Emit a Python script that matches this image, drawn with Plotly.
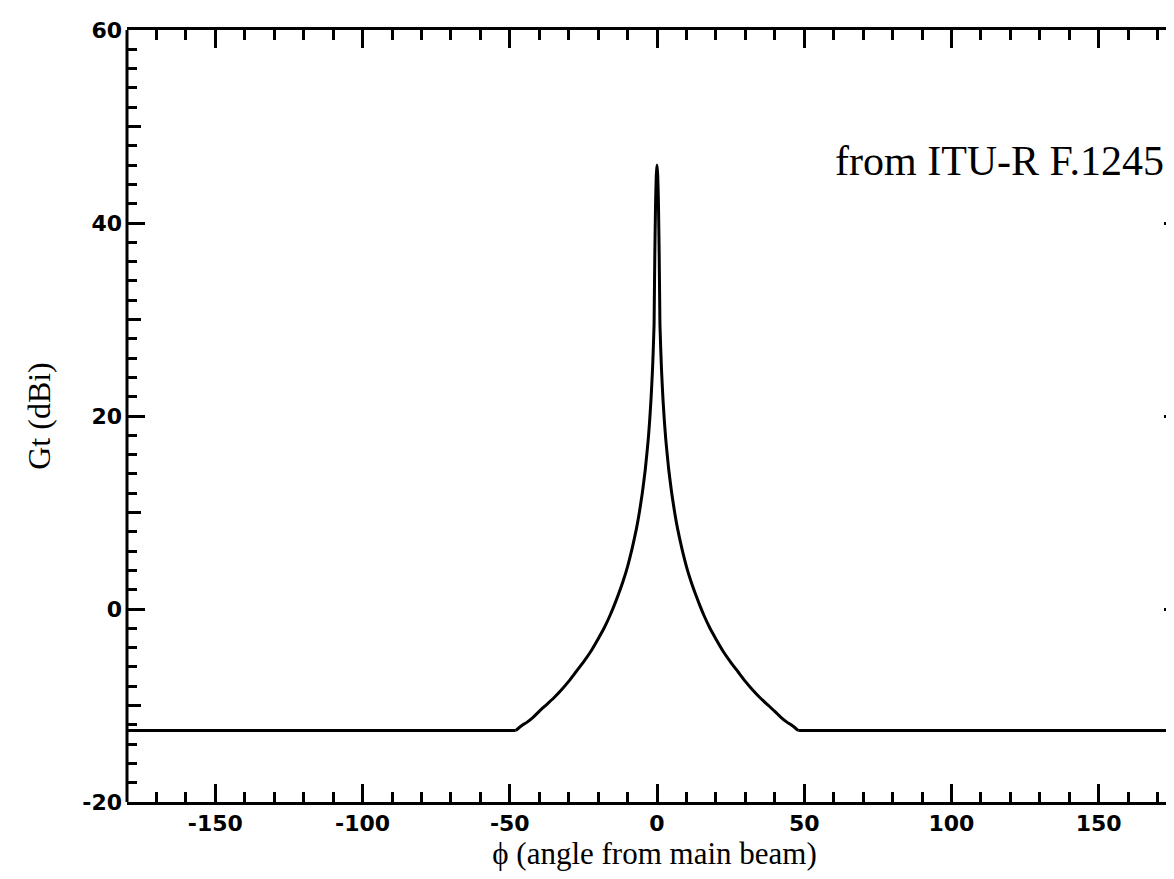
import plotly.graph_objects as go

# Antenna gain pattern (degrees, dBi)
# far sidelobe floor, left and right
floor_left_phi = [-180, -48]
floor_left_gain = [-12.6, -12.6]
floor_right_phi = [48, 180]
floor_right_gain = [-12.6, -12.6]
# main beam / near sidelobe envelope
phi = [-48, -46, -44, -42, -40, -37.5, -35, -32.5, -30, -27.5, -25, -22.5, -20, -18, -16,
       -14.5, -13, -11.5, -10, -8.5, -7, -6, -5, -4, -3, -2.5, -2, -1.5, -1, -0.95, -0.75, -0.5,
       -0.25, 0, 0.25, 0.5, 0.75, 0.95, 1, 1.5, 2, 2.5, 3, 4, 5, 6, 7, 8.5, 10, 11.5, 13, 14.5,
       16, 18, 20, 22.5, 25, 27.5, 30, 32.5, 35, 37.5, 40, 42, 44, 46, 48]
gain = [-12.6, -12.1, -11.7, -11.2, -10.6, -9.9, -9.2, -8.4, -7.5, -6.5, -5.5, -4.4, -3.1,
        -2.0, -0.7, 0.4, 1.6, 2.9, 4.4, 6.2, 8.3, 10.0, 12.0, 14.4, 17.5, 19.5, 21.9, 25.0, 29.4,
        30.8, 36.5, 41.8, 44.9, 46.0, 44.9, 41.8, 36.5, 30.8, 29.4, 25.0, 21.9, 19.5, 17.5, 14.4,
        12.0, 10.0, 8.3, 6.2, 4.4, 2.9, 1.6, 0.4, -0.7, -2.0, -3.1, -4.4, -5.5, -6.5, -7.5, -8.4,
        -9.2, -9.9, -10.6, -11.2, -11.7, -12.1, -12.6]

x_range = [-180, 178.3]
y_range = [-20, 60]
x_ticks = [-150, -100, -50, 0, 50, 100, 150]
x_tick_labels = ["-150", "-100", "-50", "0", "50", "100", "150"]
y_ticks = [-20, 0, 20, 40, 60]
y_tick_labels = ["-20", "0", "20", "40", "60"]
y_mid_ticks = [-10, 10, 30, 50]

tick_font = dict(family="DejaVu Sans", size=22, color="black", weight="bold")
serif = "Liberation Serif"
line_style = dict(color="black", width=3)

fig = go.Figure()
fig.add_trace(go.Scatter(x=floor_left_phi, y=floor_left_gain, mode="lines",
                         line=line_style, showlegend=False, hoverinfo="skip"))
fig.add_trace(go.Scatter(x=phi, y=gain, mode="lines",
                         line=dict(line_style, shape="spline", smoothing=0.5),
                         showlegend=False, hoverinfo="skip"))
fig.add_trace(go.Scatter(x=floor_right_phi, y=floor_right_gain, mode="lines",
                         line=line_style, showlegend=False, hoverinfo="skip"))
fig.add_trace(go.Scatter(x=[], y=[], yaxis="y2", showlegend=False))

fig.update_layout(
    width=1174, height=879,
    margin=dict(l=119, r=0, t=22, b=85),
    paper_bgcolor="white", plot_bgcolor="white",
    xaxis=dict(
        range=x_range, tickvals=x_ticks, ticktext=x_tick_labels, ticks="inside",
        ticklen=18, tickwidth=2.5, tickcolor="black", showline=True, linecolor="black",
        linewidth=3, mirror="ticks", showgrid=False, zeroline=False, tickfont=tick_font,
        minor=dict(dtick=10, tick0=0, ticks="inside", ticklen=10, tickwidth=2.5,
                   tickcolor="black", showgrid=False),
        title=dict(text="\u03d5 (angle from main beam)",
                   font=dict(family=serif, size=31, color="black"), standoff=2),
    ),
    yaxis=dict(
        range=y_range, tickvals=y_ticks, ticktext=y_tick_labels, ticks="inside",
        ticklen=18, tickwidth=2.5, tickcolor="black", showline=False, mirror="ticks",
        showgrid=False, zeroline=False, tickfont=tick_font, ticklabelstandoff=4,
        minor=dict(dtick=2, tick0=0, ticks="inside", ticklen=10, tickwidth=2.5,
                   tickcolor="black", showgrid=False),
        title=dict(text="Gt (dBi)", font=dict(family=serif, size=32, color="black"),
                   standoff=22),
    ),
    yaxis2=dict(
        range=y_range, overlaying="y", side="left", tickvals=y_mid_ticks, ticks="inside",
        ticklen=14, tickwidth=2.5, tickcolor="black", mirror="ticks", showline=False,
        showticklabels=False, showgrid=False, zeroline=False,
    ),
    shapes=[dict(type="line", xref="paper", yref="paper", x0=0, x1=0, y0=0, y1=1,
                 line=dict(color="black", width=3))],
    annotations=[dict(text="from ITU-R F.1245", xref="paper", yref="paper",
                      x=0.985, y=0.83, xanchor="right", yanchor="middle", showarrow=False,
                      font=dict(family=serif, size=42, color="black"))],
)

fig.write_html("out.html")
